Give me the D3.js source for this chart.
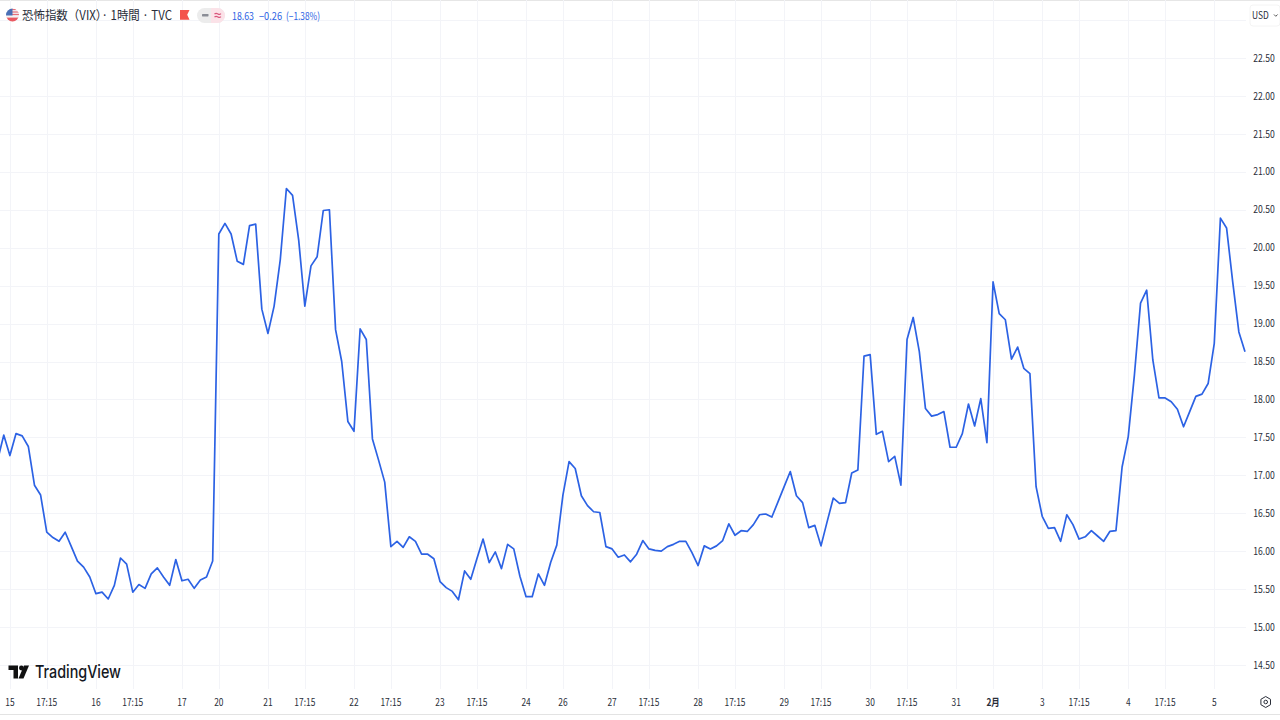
<!DOCTYPE html>
<html><head><meta charset="utf-8">
<script src="https://cdn.jsdelivr.net/npm/d3@7"></script>
<style>
html,body{margin:0;padding:0;background:#fff;overflow:hidden}
svg{display:block}
text{font-family:"Noto Sans CJK JP","Noto Sans",sans-serif}
</style></head><body>
<svg id="c" width="1280" height="720"></svg>
<script>
const vix = [17.2,17.53,17.26,17.55,17.52,17.38,16.87,16.74,16.25,16.18,16.13,16.25,16.06,15.87,15.79,15.66,15.44,15.46,15.37,15.55,15.91,15.83,15.46,15.56,15.51,15.70,15.78,15.66,15.55,15.89,15.61,15.63,15.51,15.62,15.66,15.87,
20.18,20.32,20.18,19.82,19.78,20.29,20.31,19.19,18.87,19.23,19.84,20.78,20.69,20.10,19.23,19.76,19.88,20.49,20.50,18.92,18.50,17.71,17.58,18.93,18.79,17.48,17.20,16.91,
16.06,16.13,16.05,16.19,16.13,15.96,15.96,15.90,15.60,15.52,15.47,15.36,15.74,15.63,15.90,16.16,15.85,15.99,15.77,16.09,16.03,15.67,15.40,15.40,15.70,15.55,15.85,16.08,16.74,17.18,17.09,16.73,16.60,16.52,16.51,16.06,16.03,15.92,15.95,15.86,15.96,16.14,16.03,16.01,16.00,
16.06,16.09,16.13,16.13,15.98,15.81,16.07,16.03,16.07,16.14,16.36,16.21,16.27,16.26,16.35,16.48,16.49,16.45,16.65,16.85,17.05,16.73,16.64,16.31,16.34,16.07,16.39,16.70,16.63,16.64,17.03,17.07,18.57,18.59,17.54,17.58,17.18,17.25,16.87,18.79,
19.08,18.63,17.88,17.78,17.80,17.84,17.37,17.37,17.55,17.94,17.65,18.01,17.43,19.55,19.13,19.05,18.53,18.69,18.41,18.34,16.85,16.46,16.30,16.31,16.13,16.48,16.35,16.16,
16.19,16.27,16.20,16.13,16.26,16.27,17.11,17.51,18.32,19.27,19.44,18.52,18.02,18.02,17.97,17.87,17.64,17.84,18.04,18.07,18.21,18.74,20.39,20.26,19.55,18.89,18.63];

const xTickBars = [2,8,16,22,30,36,44,50,58,64,72,78,86,92,100,106,114,120,128,134,142,148,156,162,170,176,184,190,198];
const xTickLabels = ["15","17:15","16","17:15","17","20","21","17:15","22","17:15","23","17:15","24","26","27","17:15","28","17:15","29","17:15","30","17:15","31","2月","3","17:15","4","17:15","5"];
const yTicks = [14.5,15,15.5,16,16.5,17,17.5,18,18.5,19,19.5,20,20.5,21,21.5,22,22.5,23];
const yLabelled = yTicks.filter(v => v < 23);

const PLOT_R = 1246, GRID_B = 689;
const x = d3.scaleLinear().domain([0, vix.length - 1]).range([-2.4, 1245]);
const y = d3.scaleLinear().domain([14.5, 22.5]).range([665, 58]);
const svg = d3.select("#c");
const INK = "#2a2e39", BLUE = "#2c62e4";

svg.append("rect").attr("width",1280).attr("height",720).attr("fill","#fff");
svg.append("line").attr("x1",0).attr("x2",1280).attr("y1",0.5).attr("y2",0.5).attr("stroke","#e6e6e6");
svg.append("line").attr("x1",0).attr("x2",1280).attr("y1",714.5).attr("y2",714.5).attr("stroke","#e3e3e3");

const grid = svg.append("g").attr("stroke","#f3f4f8").attr("stroke-width",1);
grid.selectAll(".h").data(yTicks).join("line")
  .attr("x1",0).attr("x2",PLOT_R)
  .attr("y1",d=>Math.round(y(d))+.5).attr("y2",d=>Math.round(y(d))+.5);
grid.selectAll(".v").data(xTickBars).join("line")
  .attr("y1",0).attr("y2",GRID_B)
  .attr("x1",d=>Math.round(x(d))+.5).attr("x2",d=>Math.round(x(d))+.5);

svg.append("path").datum(vix)
  .attr("fill","none").attr("stroke",BLUE).attr("stroke-width",1.7)
  .attr("stroke-linejoin","round")
  .attr("d",d3.line().x((d,i)=>x(i)).y(d=>y(d)));

function squeezed(sel, ratio){
  sel.each(function(){
    const w = this.getComputedTextLength();
    d3.select(this).attr("textLength", w*ratio).attr("lengthAdjust","spacingAndGlyphs");
  });
  return sel;
}

squeezed(svg.append("g").selectAll("text").data(xTickBars).join("text")
  .attr("x",d=>x(d)).attr("y",702).attr("dy","0.35em")
  .attr("text-anchor","middle").attr("font-size",10.5).attr("fill",INK)
  .attr("font-weight",(d,i)=>xTickLabels[i]==="2月"?700:400)
  .text((d,i)=>xTickLabels[i]), 0.8);

squeezed(svg.append("g").selectAll("text").data(yLabelled).join("text")
  .attr("x",1264).attr("y",d=>y(d)).attr("dy","0.35em")
  .attr("text-anchor","middle").attr("font-size",10.5).attr("fill",INK)
  .text(d=>d.toFixed(2)), 0.82);

svg.append("rect").attr("x",1250).attr("y",5).attr("width",30).attr("height",21).attr("rx",3)
  .attr("fill","#fff").attr("stroke","#f4f4f4");
squeezed(svg.append("text").attr("x",1252).attr("y",15).attr("dy","0.35em").attr("font-size",10.5).attr("fill",INK).text("USD"),0.8);
svg.append("path").attr("d","M1274 14.500l1.800 1.800 1.800-1.800").attr("fill","none").attr("stroke","#555").attr("stroke-width",1);

svg.append("path").attr("d","M1265.700 696.500l4.800 2.800v5.400l-4.800 2.800-4.800-2.800v-5.400z").attr("fill","none").attr("stroke",INK).attr("stroke-width",1);
svg.append("circle").attr("cx",1265.7).attr("cy",702).attr("r",1.8).attr("fill","none").attr("stroke",INK).attr("stroke-width",1);

const defs = svg.append("defs");
defs.append("clipPath").attr("id","fl").append("circle").attr("cx",12.5).attr("cy",15).attr("r",6.5);
const f = svg.append("g").attr("clip-path","url(#fl)");
f.append("rect").attr("x",5).attr("y",8).attr("width",15).attr("height",14).attr("fill","#f3f3f3");
[9.500,12,14.500].forEach(v=>f.append("rect").attr("x",12).attr("y",v-.6).attr("width",8).attr("height",1.2).attr("fill","#e8707a"));
f.append("rect").attr("x",5).attr("y",17.6).attr("width",15).attr("height",5).attr("fill","#ea5a62");
f.append("rect").attr("x",5).attr("y",8).attr("width",7.500).attr("height",7.500).attr("fill","#4a6fb5");

const headerTitle = "恐怖指数（VIX）· 1時間 · TVC";
svg.append("text").attr("x",22).attr("y",16).attr("dy","0.35em").attr("font-size",12.5).attr("fill",INK)
  .attr("textLength",150).attr("lengthAdjust","spacingAndGlyphs").text(headerTitle);

svg.append("path").attr("d","M180 10h9.500l-2.300 4.700 2.300 5H180z").attr("fill","#f4524d");
svg.append("rect").attr("x",197).attr("y",8).attr("width",28).attr("height",15).attr("rx",7.5).attr("fill","#ececec");
svg.append("path").attr("d","M211 8h6.500a7.500 7.500 0 0 1 0 15H211z").attr("fill","#fbe2e8");
svg.append("rect").attr("x",202).attr("y",14).attr("width",6.5).attr("height",2.4).attr("rx",.6).attr("fill","#8a8d96");
svg.append("path").attr("d","M214.500 14c1.500-1.200 3-.3 3.500 0s2 .6 3-.3M214.500 17c1.500-1.200 3-.3 3.500 0s2 .6 3-.3").attr("fill","none").attr("stroke","#d8557b").attr("stroke-width",1.1);

const quoteParts = [["18.63",232,22],["−0.26",259,23],["(−1.38%)",286,34]];
svg.append("g").selectAll("text").data(quoteParts).join("text")
  .attr("x",d=>d[1]).attr("y",16).attr("dy","0.35em").attr("font-size",10.5).attr("fill",BLUE)
  .attr("textLength",d=>d[2]).attr("lengthAdjust","spacingAndGlyphs").text(d=>d[0]);

svg.append("path").attr("d","M8.500 665.500h9.500v13h-4.500v-8.500h-5z").attr("fill","#111");
svg.append("circle").attr("cx",21.4).attr("cy",668).attr("r",2.4).attr("fill","#111");
svg.append("path").attr("d","M29 665.500l-5.500 13h-5l5.500-13z").attr("fill","#111");
svg.append("text").attr("x",35).attr("y",672).attr("dy","0.36em").attr("font-size",17).attr("font-weight",500)
  .attr("fill","#131722").style("font-family","Inter,Roboto,sans-serif")
  .attr("textLength",86).attr("lengthAdjust","spacingAndGlyphs").text("TradingView");
</script>
</body></html>
